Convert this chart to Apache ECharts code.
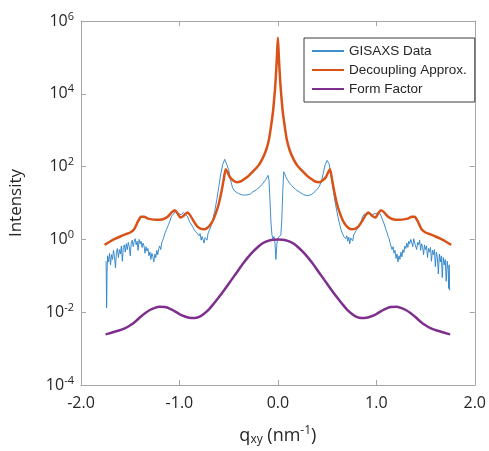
<!DOCTYPE html>
<html>
<head>
<meta charset="utf-8">
<script src="https://cdn.jsdelivr.net/npm/echarts@6/dist/echarts.min.js"></script>
<style>
  html, body { margin: 0; padding: 0; background: #fff; }
  #chart { width: 489px; height: 451px; }
</style>
</head>
<body>
<div id="chart"></div>
<script>
// [q, log10(intensity)]
const gisaxsPoints = [
  [-1.745, -0.60], [-1.74, -1.88], [-1.735, -0.90], [-1.73, -0.45], [-1.72, -0.62], [-1.71, -0.38],
  [-1.70, -0.70], [-1.69, -0.42], [-1.68, -0.55], [-1.67, -0.30], [-1.66, -0.48], [-1.65, -0.78],
  [-1.64, -0.35], [-1.63, -0.25], [-1.62, -0.50], [-1.61, -0.28], [-1.60, -0.40], [-1.59, -0.18],
  [-1.58, -0.60], [-1.57, -0.22], [-1.56, -0.15], [-1.55, -0.35], [-1.54, -0.12], [-1.53, -0.28],
  [-1.52, -0.08], [-1.51, -0.20], [-1.50, -0.45], [-1.49, -0.10], [-1.48, -0.02], [-1.47, -0.20],
  [-1.46, -0.06], [-1.45, 0.02], [-1.44, -0.15], [-1.43, -0.05], [-1.42, -0.30], [-1.41, 0.00],
  [-1.40, -0.12], [-1.39, -0.05], [-1.38, -0.22], [-1.37, -0.10], [-1.36, -0.18], [-1.35, -0.38],
  [-1.34, -0.20], [-1.33, -0.32], [-1.32, -0.25], [-1.31, -0.45], [-1.30, -0.35], [-1.29, -0.55],
  [-1.28, -0.38], [-1.27, -0.48], [-1.26, -0.62], [-1.25, -0.40], [-1.24, -0.50], [-1.23, -0.30],
  [-1.22, -0.42], [-1.21, -0.25], [-1.20, -0.18], [-1.19, -0.28], [-1.18, -0.10], [-1.17, -0.02],
  [-1.16, 0.05], [-1.15, 0.15], [-1.14, 0.12], [-1.13, 0.28], [-1.12, 0.35], [-1.11, 0.42],
  [-1.10, 0.48], [-1.08, 0.64], [-1.06, 0.70], [-1.04, 0.78], [-1.02, 0.72], [-1.00, 0.74],
  [-0.98, 0.68], [-0.96, 0.74], [-0.94, 0.70], [-0.92, 0.64], [-0.90, 0.50], [-0.88, 0.46],
  [-0.86, 0.32], [-0.85, 0.26], [-0.84, 0.30], [-0.83, 0.20], [-0.82, 0.18], [-0.81, 0.24],
  [-0.80, 0.10], [-0.79, 0.16], [-0.78, -0.02], [-0.77, 0.08], [-0.76, 0.12], [-0.75, -0.10],
  [-0.74, 0.05], [-0.73, 0.10], [-0.72, -0.02], [-0.71, 0.16], [-0.70, 0.20], [-0.68, 0.36],
  [-0.66, 0.55], [-0.64, 0.80], [-0.62, 1.10], [-0.60, 1.45], [-0.58, 1.80], [-0.56, 2.06],
  [-0.54, 2.20], [-0.52, 2.16], [-0.50, 1.92], [-0.48, 1.62], [-0.46, 1.42], [-0.44, 1.33],
  [-0.42, 1.31], [-0.40, 1.26], [-0.38, 1.29], [-0.36, 1.22], [-0.34, 1.25], [-0.32, 1.22],
  [-0.30, 1.26], [-0.28, 1.24], [-0.26, 1.30], [-0.24, 1.29], [-0.22, 1.36], [-0.20, 1.38],
  [-0.18, 1.45], [-0.16, 1.50], [-0.14, 1.58], [-0.12, 1.66], [-0.10, 1.76], [-0.09, 1.62],
  [-0.08, 1.05], [-0.07, 0.45], [-0.06, 0.12], [-0.05, 0.02], [-0.04, 0.08], [-0.03, -0.08],
  [-0.02, -0.55], [-0.01, -0.12], [0.00, 0.04], [0.01, 0.06], [0.02, 0.00], [0.03, 0.12],
  [0.04, 0.55], [0.05, 1.35], [0.06, 1.86], [0.07, 1.80], [0.08, 1.72], [0.10, 1.62],
  [0.12, 1.54], [0.14, 1.48], [0.16, 1.43], [0.18, 1.37], [0.20, 1.33], [0.22, 1.30],
  [0.24, 1.27], [0.26, 1.23], [0.28, 1.22], [0.30, 1.20], [0.32, 1.23], [0.34, 1.23],
  [0.36, 1.28], [0.38, 1.32], [0.40, 1.38], [0.42, 1.45], [0.44, 1.58], [0.46, 1.80],
  [0.48, 2.05], [0.50, 2.17], [0.52, 2.08], [0.54, 1.78], [0.56, 1.40], [0.58, 1.05],
  [0.60, 0.76], [0.62, 0.50], [0.64, 0.28], [0.65, 0.20], [0.66, 0.16], [0.67, 0.08],
  [0.68, 0.12], [0.69, 0.02], [0.70, 0.10], [0.71, -0.05], [0.72, 0.06], [0.73, -0.12],
  [0.74, 0.04], [0.75, 0.08], [0.76, -0.04], [0.77, 0.12], [0.78, 0.16], [0.79, 0.22],
  [0.80, 0.25], [0.82, 0.35], [0.84, 0.45], [0.86, 0.62], [0.88, 0.70], [0.90, 0.74],
  [0.92, 0.70], [0.94, 0.73], [0.96, 0.68], [0.98, 0.72], [1.00, 0.72], [1.02, 0.76],
  [1.04, 0.70], [1.06, 0.56], [1.08, 0.42], [1.10, 0.25], [1.11, 0.18], [1.12, 0.08],
  [1.13, 0.02], [1.14, -0.10], [1.15, -0.05], [1.16, -0.28], [1.17, -0.20], [1.18, -0.38],
  [1.19, -0.30], [1.20, -0.52], [1.21, -0.40], [1.22, -0.62], [1.23, -0.45], [1.24, -0.55],
  [1.25, -0.35], [1.26, -0.48], [1.27, -0.28], [1.28, -0.36], [1.29, -0.18], [1.30, -0.25],
  [1.31, -0.10], [1.32, -0.22], [1.33, -0.05], [1.34, -0.12], [1.35, 0.00], [1.36, -0.08],
  [1.37, -0.20], [1.38, 0.02], [1.39, -0.10], [1.40, -0.05], [1.41, -0.28], [1.42, -0.08],
  [1.43, -0.15], [1.44, -0.02], [1.45, -0.30], [1.46, -0.12], [1.47, -0.20], [1.48, -0.42],
  [1.49, -0.15], [1.50, -0.28], [1.51, -0.18], [1.52, -0.50], [1.53, -0.25], [1.54, -0.35],
  [1.55, -0.22], [1.56, -0.60], [1.57, -0.30], [1.58, -0.42], [1.59, -0.28], [1.60, -0.75],
  [1.61, -0.35], [1.62, -0.50], [1.63, -0.95], [1.64, -0.40], [1.65, -0.62], [1.66, -0.45],
  [1.67, -1.05], [1.68, -0.50], [1.69, -0.70], [1.70, -0.55], [1.71, -1.15], [1.72, -0.60],
  [1.73, -0.85], [1.735, -1.35], [1.74, -0.70], [1.745, -1.40]
];

const decouplingPoints = [
  [-1.76, -0.15], [-1.70, -0.05], [-1.65, 0.02], [-1.60, 0.08], [-1.55, 0.14], [-1.50, 0.19],
  [-1.46, 0.28], [-1.42, 0.50], [-1.39, 0.62], [-1.36, 0.62], [-1.32, 0.57], [-1.28, 0.55],
  [-1.24, 0.54], [-1.20, 0.54], [-1.16, 0.56], [-1.12, 0.62], [-1.08, 0.74], [-1.05, 0.80],
  [-1.02, 0.72], [-0.99, 0.60], [-0.96, 0.64], [-0.92, 0.74], [-0.89, 0.66], [-0.86, 0.52],
  [-0.82, 0.36], [-0.78, 0.29], [-0.75, 0.28], [-0.72, 0.31], [-0.69, 0.39], [-0.66, 0.52],
  [-0.63, 0.72], [-0.60, 0.98], [-0.57, 1.35], [-0.55, 1.65], [-0.53, 1.93], [-0.51, 1.84],
  [-0.49, 1.72], [-0.46, 1.63], [-0.42, 1.57], [-0.38, 1.59], [-0.34, 1.66], [-0.30, 1.74],
  [-0.24, 1.90], [-0.20, 2.02], [-0.16, 2.20], [-0.12, 2.45], [-0.09, 2.75], [-0.07, 3.10],
  [-0.05, 3.50], [-0.03, 4.10], [-0.02, 4.50], [-0.01, 5.00], [0.00, 5.55], [0.01, 5.00],
  [0.02, 4.50], [0.03, 4.10], [0.05, 3.50], [0.07, 3.10], [0.09, 2.75], [0.12, 2.45],
  [0.16, 2.20], [0.20, 2.02], [0.24, 1.90], [0.30, 1.74], [0.34, 1.66], [0.38, 1.59],
  [0.42, 1.57], [0.46, 1.63], [0.49, 1.72], [0.51, 1.84], [0.53, 1.93], [0.55, 1.65],
  [0.57, 1.35], [0.60, 0.98], [0.63, 0.72], [0.66, 0.52], [0.69, 0.39], [0.72, 0.31],
  [0.75, 0.28], [0.78, 0.29], [0.82, 0.36], [0.86, 0.52], [0.89, 0.66], [0.92, 0.74],
  [0.96, 0.64], [0.99, 0.60], [1.02, 0.72], [1.05, 0.80], [1.08, 0.74], [1.12, 0.62],
  [1.16, 0.56], [1.20, 0.54], [1.24, 0.54], [1.28, 0.55], [1.32, 0.57], [1.36, 0.62],
  [1.39, 0.62], [1.42, 0.50], [1.46, 0.28], [1.50, 0.19], [1.55, 0.14], [1.60, 0.08],
  [1.65, 0.02], [1.70, -0.05], [1.76, -0.15]
];

const formFactorPoints = [
  [-1.75, -2.61], [-1.70, -2.57], [-1.65, -2.53], [-1.60, -2.49], [-1.55, -2.44], [-1.50, -2.36],
  [-1.45, -2.26], [-1.40, -2.14], [-1.35, -2.03], [-1.30, -1.94], [-1.25, -1.88], [-1.20, -1.85],
  [-1.15, -1.86], [-1.10, -1.90], [-1.05, -1.97], [-1.00, -2.05], [-0.95, -2.11], [-0.90, -2.15],
  [-0.85, -2.16], [-0.80, -2.13], [-0.75, -2.04], [-0.70, -1.92], [-0.65, -1.76], [-0.60, -1.59],
  [-0.55, -1.41], [-0.50, -1.22], [-0.45, -1.03], [-0.40, -0.84], [-0.35, -0.65], [-0.30, -0.48],
  [-0.25, -0.33], [-0.20, -0.20], [-0.15, -0.10], [-0.10, -0.04], [-0.05, -0.01], [0.00, 0.00],
  [0.05, -0.01], [0.10, -0.04], [0.15, -0.10], [0.20, -0.20], [0.25, -0.33], [0.30, -0.48],
  [0.35, -0.65], [0.40, -0.84], [0.45, -1.03], [0.50, -1.22], [0.55, -1.41], [0.60, -1.59],
  [0.65, -1.76], [0.70, -1.92], [0.75, -2.04], [0.80, -2.13], [0.85, -2.16], [0.90, -2.15],
  [0.95, -2.11], [1.00, -2.05], [1.05, -1.97], [1.10, -1.90], [1.15, -1.86], [1.20, -1.85],
  [1.25, -1.88], [1.30, -1.94], [1.35, -2.03], [1.40, -2.14], [1.45, -2.26], [1.50, -2.36],
  [1.55, -2.44], [1.60, -2.49], [1.65, -2.53], [1.70, -2.57], [1.75, -2.61]
];

const seriesNames = ['GISAXS Data', 'Decoupling Approx.', 'Form Factor'];

const toIntensity = pts => pts.map(p => [p[0], Math.pow(10, p[1])]);

const chart = echarts.init(document.getElementById('chart'));
const txt = '#262626';
const frame = '#a6a6a6';
const font = 'Open Sans';

const xBase = {
    type: 'value',
    min: -2,
    max: 2,
    interval: 1,
    axisLine: { show: true, onZero: false, lineStyle: { color: frame, width: 1 } },
    axisTick: { show: true, inside: true, length: 5, lineStyle: { color: frame } },
    splitLine: { show: false },
};
const yBase = {
    type: 'log',
    logBase: 10,
    min: 1e-4,
    max: 1e6,
    interval: 2,
    axisLine: { show: true, onZero: false, lineStyle: { color: frame, width: 1 } },
    axisTick: { show: true, inside: true, length: 5, lineStyle: { color: frame } },
    splitLine: { show: false },
    minorTick: { show: false },
};

chart.setOption({
    animation: false,
    backgroundColor: '#fff',
    grid: { left: 77, right: 12, top: 21, bottom: 57 },
    legend: {
        data: seriesNames,
        orient: 'vertical',
        left: 304,
        top: 38,
        padding: [6, 8, 6, 7],
        itemWidth: 32,
        itemHeight: 14,
        itemGap: 5,
        itemTextGap: 3,
        itemStyle: { opacity: 0 },
        borderColor: '#3c3c3c',
        borderWidth: 1,
        backgroundColor: '#fff',
        textStyle: { fontFamily: 'Liberation Sans', fontSize: 13.5, color: txt },
    },
    xAxis: [
        Object.assign({}, xBase, {
            position: 'bottom',
            axisLabel: {
                margin: 10,
                fontFamily: font,
                fontSize: 16,
                color: txt,
                formatter: v => v.toFixed(1),
            },
            name: '{n|q}{sub|xy}{n| (nm}{sup|-1}{n|)}',
            nameLocation: 'middle',
            nameGap: 40,
            nameTextStyle: {
                rich: {
                    n: { fontFamily: font, fontSize: 18, color: txt },
                    sub: { fontFamily: font, fontSize: 12, color: txt, padding: [8, 0, 0, 0] },
                    sup: { fontFamily: font, fontSize: 12, color: txt, padding: [0, 0, 10, 0] },
                },
            },
        }),
        Object.assign({}, xBase, { position: 'top', axisLabel: { show: false } }),
    ],
    yAxis: [
        Object.assign({}, yBase, {
            position: 'left',
            axisLabel: {
                margin: 7,
                formatter: v => '{b|10}{s|' + Math.round(Math.log10(v)) + '}',
                rich: {
                    b: { fontFamily: font, fontSize: 16, color: txt },
                    s: { fontFamily: font, fontSize: 11, color: txt, padding: [0, 0, 9, 0] },
                },
            },
            name: 'Intensity',
            nameLocation: 'middle',
            nameGap: 56,
            nameTextStyle: { fontFamily: font, fontSize: 17, color: txt },
        }),
        Object.assign({}, yBase, { position: 'right', axisLabel: { show: false } }),
    ],
    series: [
        {
            name: seriesNames[0],
            type: 'line',
            data: toIntensity(gisaxsPoints),
            showSymbol: false,
            symbol: 'none',
            lineStyle: { color: '#2a82c9', width: 1, opacity: 0.9 },
            itemStyle: { color: '#5aa6df' },
        },
        {
            name: seriesNames[1],
            type: 'line',
            data: toIntensity(decouplingPoints),
            showSymbol: false,
            symbol: 'none',
            smooth: 0.2,
            lineStyle: { color: '#d95319', width: 2.5 },
            itemStyle: { color: '#d95319' },
        },
        {
            name: seriesNames[2],
            type: 'line',
            data: toIntensity(formFactorPoints),
            showSymbol: false,
            symbol: 'none',
            smooth: 0.3,
            lineStyle: { color: '#7e2f8e', width: 2.5 },
            itemStyle: { color: '#7e2f8e' },
        },
    ],
});
</script>
</body>
</html>
